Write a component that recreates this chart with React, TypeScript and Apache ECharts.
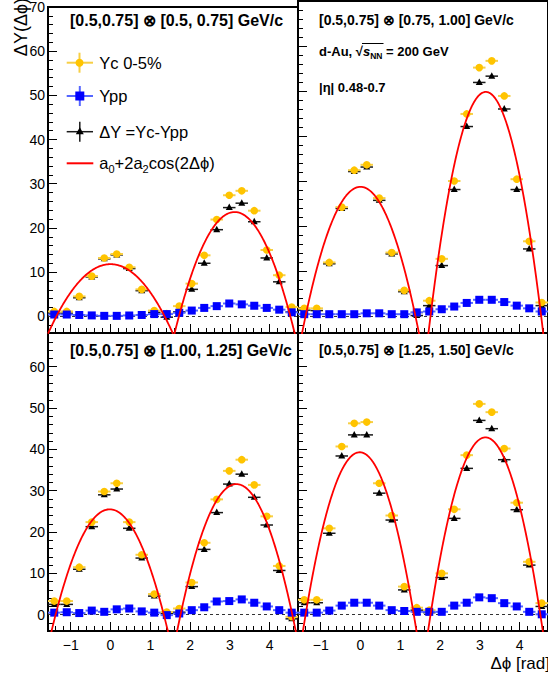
import React, { useEffect, useRef } from "react";
import * as echarts from "echarts";

const FONT = '"Liberation Sans", Arial, Helvetica, sans-serif';

// Δϕ bin centres (20 bins of width π/10 between -π/2 and 3π/2)
const binCenters = [-1.414, -1.1, -0.785, -0.471, -0.157, 0.157, 0.471, 0.785, 1.1, 1.414, 1.728, 2.042, 2.356, 2.67, 2.985, 3.299, 3.613, 3.927, 4.241, 4.555];
const binHalfWidth = 0.157;

const xMajorTicks = [-1, 0, 1, 2, 3, 4];
const yMajorTicksTop = [0, 10, 20, 30, 40, 50, 60, 70];
const yMajorTicksBottom = [0, 10, 20, 30, 40, 50, 60];

// panel 1: [0.5,0.75] x [0.5,0.75]
const ycP1 = [1.1, 1.1, 4.5, 9.1, 13.2, 14.1, 11.1, 6.1, 1.3, 0.6, 2.3, 7.4, 13.8, 21.9, 27.4, 28.4, 23.9, 15.0, 9.3, 2.1];
const yppP1 = [0.4, 0.4, 0.3, 0.2, 0.1, 0.1, 0.2, 0.3, 0.5, 0.5, 0.8, 1.3, 1.9, 2.3, 2.9, 2.7, 2.4, 1.9, 1.5, 0.9];
const dyP1 = [0.7, 0.7, 4.2, 8.9, 13.0, 13.9, 10.8, 5.8, 0.9, -0.2, 1.0, 6.1, 12.0, 19.6, 24.6, 25.6, 21.4, 13.2, 7.8, 1.0];
// panel 2: [0.5,0.75] x [0.75,1.00]
const ycP2 = [1.7, 1.7, 11.9, 24.2, 32.4, 33.6, 26.2, 14.1, 5.7, 0.8, 3.4, 12.7, 30.0, 44.9, 55.2, 56.7, 48.9, 30.4, 16.6, 3.0];
const yppP2 = [0.4, 0.4, 0.4, 0.4, 0.4, 0.6, 0.6, 0.4, 0.4, 0.8, 1.0, 1.5, 2.1, 2.9, 3.6, 3.6, 3.1, 2.3, 1.7, 1.0];
const dyP2 = [1.3, 1.2, 11.6, 23.9, 32.1, 33.1, 25.7, 13.8, 5.4, 0.1, 2.3, 11.2, 28.1, 42.1, 51.9, 53.3, 46.0, 28.1, 14.9, 2.3];
// panel 3: [0.5,0.75] x [1.00,1.25]
const ycP3 = [3.3, 3.3, 11.5, 22.4, 29.8, 31.8, 22.4, 14.5, 5.0, 0.65, 1.5, 7.8, 17.4, 27.9, 34.8, 37.5, 31.4, 23.8, 11.8, -0.5];
const yppP3 = [0.5, 0.6, 0.4, 1.0, 0.7, 1.3, 1.5, 0.8, 0.5, -0.1, 0.3, 1.1, 1.8, 3.2, 3.3, 3.7, 2.9, 2.0, 1.1, 0.5];
const dyP3 = [2.5, 2.5, 11.0, 21.3, 29.0, 30.4, 20.9, 13.7, 4.5, 0.3, 0.6, 6.8, 15.8, 24.7, 31.6, 34.0, 28.4, 21.7, 10.7, -1.0];
// panel 4: [0.5,0.75] x [1.25,1.50]
const ycP4 = [3.6, 3.6, 20.9, 40.7, 46.3, 46.6, 31.8, 24.0, 6.8, 1.7, 1.1, 10.0, 25.5, 38.6, 51.0, 49.0, 40.2, 27.1, 12.8, 2.8];
const yppP4 = [0.5, 0.5, 1.0, 2.2, 2.9, 2.9, 2.2, 1.1, 0.9, 0.7, 0.7, 0.7, 2.2, 2.9, 4.2, 4.0, 2.8, 2.0, 0.7, 0.1];
const dyP4 = [2.9, 2.9, 19.7, 38.4, 43.5, 43.5, 29.4, 22.9, 6.0, 1.1, 0.5, 9.0, 23.3, 35.4, 47.0, 45.0, 37.5, 25.4, 12.0, 2.0];

// fitted curve parameters per panel (near side / away side)
const nearPeak = [11.8, 28.7, 25.5, 39.3];
const nearCenter = [0.0, 0.0, -0.02, -0.02];
const nearWidth = [1.36, 1.38, 1.36, 1.36];
const awayPeak = [23.6, 49.8, 31.6, 42.9];
const awayCenter = [3.12, 3.15, 3.165, 3.14];
const awayWidth = [1.4, 1.39, 1.405, 1.38];

const panelTitles = [
  "[0.5,0.75] ⊗ [0.5, 0.75] GeV/c",
  "[0.5,0.75] ⊗ [0.75, 1.00] GeV/c",
  "[0.5,0.75] ⊗ [1.00, 1.25] GeV/c",
  "[0.5,0.75] ⊗ [1.25, 1.50] GeV/c",
];

const ycAll = [ycP1, ycP2, ycP3, ycP4];
const yppAll = [yppP1, yppP2, yppP3, yppP4];
const dyAll = [dyP1, dyP2, dyP3, dyP4];

const LAYOUT = [
  { left: 48, top: 1, width: 250, height: 332, yMin: -3.78, yMax: 70, showY: true, showX: false, yTicks: yMajorTicksTop, titleX: 70, titleY: 20, titleSize: 16 },
  { left: 298, top: 1, width: 251, height: 332, yMin: -3.78, yMax: 70, showY: false, showX: false, yTicks: yMajorTicksTop, titleX: 319, titleY: 19.5, titleSize: 14 },
  { left: 48, top: 333, width: 250, height: 298, yMin: -3.94, yMax: 68.15, showY: true, showX: true, yTicks: yMajorTicksBottom, titleX: 70, titleY: 350, titleSize: 16 },
  { left: 298, top: 333, width: 251, height: 298, yMin: -3.94, yMax: 68.15, showY: false, showX: true, yTicks: yMajorTicksBottom, titleX: 319, titleY: 349.5, titleSize: 14 },
];

const X_MIN = -Math.PI / 2;
const X_MAX = (3 * Math.PI) / 2;

const xMinorTicks: number[] = [];
for (let i = -7; i <= 23; i++) if (i % 5 !== 0) xMinorTicks.push(i / 5);
const yMinorTicks: number[] = [];
for (let i = -1; i <= 34; i++) if (i % 5 !== 0) yMinorTicks.push(i * 2);

const YC_MARK = "#FFC400";
const YC_BAR = "#F7CF45";
const YPP_MARK = "#0000FF";
const YPP_BAR = "#5566FF";
const DY_MARK = "#000000";
const DY_BAR = "#1a1a1a";
const RED = "#FF0000";

function fitCurve(peak: number, center: number, width: number, from: number, to: number) {
  const pts: number[][] = [];
  const n = 200;
  for (let i = 0; i <= n; i++) {
    const x = from + ((to - from) * i) / n;
    const u = (x - center) / width;
    pts.push([x, peak * (1 - u * u)]);
  }
  return pts;
}

function pointSeries(gi: number, values: number[], kind: "yc" | "ypp" | "dy") {
  const z = kind === "dy" ? 3 : kind === "yc" ? 4 : 5;
  return {
    type: "custom",
    xAxisIndex: 2 * gi,
    yAxisIndex: 2 * gi,
    clip: false,
    z,
    silent: true,
    data: values.map((v, k) => [binCenters[k], v]),
    renderItem: (_p: any, api: any) => {
      const x = api.value(0);
      const y = api.value(1);
      const a = api.coord([x - binHalfWidth, y]);
      const b = api.coord([x + binHalfWidth, y]);
      const c = api.coord([x, y]);
      const barColor = kind === "yc" ? YC_BAR : kind === "ypp" ? YPP_BAR : DY_BAR;
      const children: any[] = [
        {
          type: "line",
          shape: { x1: a[0], y1: a[1], x2: b[0], y2: b[1] },
          style: { stroke: barColor, lineWidth: kind === "dy" ? 1.5 : 2 },
        },
      ];
      if (kind === "yc") {
        children.push({ type: "circle", shape: { cx: c[0], cy: c[1], r: 3.8 }, style: { fill: YC_MARK } });
      } else if (kind === "ypp") {
        children.push({ type: "rect", shape: { x: c[0] - 4, y: c[1] - 4, width: 8, height: 8 }, style: { fill: YPP_MARK } });
      } else {
        children.push({
          type: "polygon",
          shape: { points: [[c[0], c[1] - 4], [c[0] - 3.5, c[1] + 2.5], [c[0] + 3.5, c[1] + 2.5]] },
          style: { fill: DY_MARK },
        });
      }
      return { type: "group", children };
    },
  };
}

function buildOption() {
  const grid: any[] = [];
  const xAxis: any[] = [];
  const yAxis: any[] = [];
  const series: any[] = [];
  const graphic: any[] = [];

  LAYOUT.forEach((L, gi) => {
    grid.push({
      left: L.left,
      top: L.top,
      width: L.width,
      height: L.height,
      show: true,
      borderColor: "#000",
      borderWidth: 2,
      backgroundColor: "transparent",
      containLabel: false,
    });
    const baseX = {
      type: "value",
      gridIndex: gi,
      min: X_MIN,
      max: X_MAX,
      position: "bottom",
      axisLine: { show: false, onZero: false },
      splitLine: { show: false },
    };
    xAxis.push({
      ...baseX,
      axisTick: { show: true, inside: true, length: 9, customValues: xMajorTicks, lineStyle: { color: "#000", width: 1 } },
      axisLabel: {
        show: L.showX,
        customValues: xMajorTicks,
        formatter: (v: number) => (v < 0 ? "\u2212" + Math.abs(v) : String(v)),
        fontSize: 14,
        fontFamily: FONT,
        color: "#000",
        margin: 7,
      },
    });
    xAxis.push({
      ...baseX,
      axisTick: { show: true, inside: true, length: 5, customValues: xMinorTicks, lineStyle: { color: "#000", width: 1 } },
      axisLabel: { show: false },
    });
    const baseY = {
      type: "value",
      gridIndex: gi,
      min: L.yMin,
      max: L.yMax,
      position: "left",
      axisLine: { show: false, onZero: false },
      splitLine: { show: false },
    };
    yAxis.push({
      ...baseY,
      axisTick: { show: true, inside: true, length: 9, customValues: L.yTicks, lineStyle: { color: "#000", width: 1 } },
      axisLabel: {
        show: L.showY,
        customValues: L.yTicks,
        fontSize: 14,
        fontFamily: FONT,
        color: "#000",
        margin: 3,
      },
    });
    yAxis.push({
      ...baseY,
      axisTick: {
        show: true,
        inside: true,
        length: 5,
        customValues: yMinorTicks.filter((v) => v > L.yMin && v < L.yMax),
        lineStyle: { color: "#000", width: 1 },
      },
      axisLabel: { show: false },
    });

    // zero reference line
    series.push({
      type: "line",
      xAxisIndex: 2 * gi,
      yAxisIndex: 2 * gi,
      data: [],
      z: 1,
      silent: true,
      markLine: {
        silent: true,
        symbol: "none",
        label: { show: false },
        lineStyle: { type: [3, 3], color: "#333", width: 1 },
        data: [{ yAxis: 0 }],
      },
    });

    series.push(pointSeries(gi, dyAll[gi], "dy"));
    series.push(pointSeries(gi, ycAll[gi], "yc"));
    series.push(pointSeries(gi, yppAll[gi], "ypp"));

    series.push({
      type: "line",
      xAxisIndex: 2 * gi,
      yAxisIndex: 2 * gi,
      data: fitCurve(nearPeak[gi], nearCenter[gi], nearWidth[gi], X_MIN, Math.PI / 2),
      showSymbol: false,
      symbol: "none",
      clip: true,
      z: 6,
      silent: true,
      lineStyle: { color: RED, width: 1.8 },
    });
    series.push({
      type: "line",
      xAxisIndex: 2 * gi,
      yAxisIndex: 2 * gi,
      data: fitCurve(awayPeak[gi], awayCenter[gi], awayWidth[gi], Math.PI / 2, X_MAX),
      showSymbol: false,
      symbol: "none",
      clip: true,
      z: 6,
      silent: true,
      lineStyle: { color: RED, width: 1.8 },
    });

    graphic.push({
      type: "text",
      x: L.titleX,
      y: L.titleY,
      z: 20,
      style: {
        text: panelTitles[gi],
        fontSize: L.titleSize,
        fontWeight: "bold",
        fontFamily: FONT,
        fill: "#000",
        verticalAlign: "middle",
      },
    });
  });

  // Legend (top-left panel)
  const legendText = (y: number, text: string) => ({
    type: "text",
    x: 99.3,
    y,
    z: 20,
    style: { text, fontSize: 16.5, fontFamily: FONT, fill: "#000", verticalAlign: "middle" },
  });
  const cross = (cx: number, cy: number, color: string, w: number) => [
    { type: "line", z: 20, shape: { x1: 66.7, y1: cy, x2: 93, y2: cy }, style: { stroke: color, lineWidth: w } },
    { type: "line", z: 20, shape: { x1: cx, y1: cy - 10, x2: cx, y2: cy + 10 }, style: { stroke: color, lineWidth: w } },
  ];
  graphic.push(...cross(79.5, 62.7, YC_BAR, 2));
  graphic.push({ type: "circle", z: 21, shape: { cx: 79.5, cy: 62.7, r: 4 }, style: { fill: YC_MARK } });
  graphic.push(legendText(62.7, "Yc 0-5%"));
  graphic.push(...cross(79.8, 96, YPP_BAR, 2));
  graphic.push({ type: "rect", z: 21, shape: { x: 75.3, y: 91.5, width: 9, height: 9 }, style: { fill: YPP_MARK } });
  graphic.push(legendText(96, "Ypp"));
  graphic.push(...cross(79.8, 131.7, DY_BAR, 1.5));
  graphic.push({
    type: "polygon",
    z: 21,
    shape: { points: [[79.8, 127.2], [75.8, 134.2], [83.8, 134.2]] },
    style: { fill: DY_MARK },
  });
  graphic.push(legendText(131.7, "\u0394Y =Yc-Ypp"));
  graphic.push({ type: "line", z: 20, shape: { x1: 66.7, y1: 163.3, x2: 93.3, y2: 163.3 }, style: { stroke: RED, lineWidth: 2 } });
  graphic.push({
    type: "text",
    x: 99.3,
    y: 163.3,
    z: 20,
    style: {
      text: "{n|a}{s|0}{n|+2a}{s|2}{n|cos(2\u0394\u03d5)}",
      verticalAlign: "middle",
      fill: "#000",
      rich: {
        n: { fontSize: 16.5, fontFamily: FONT, lineHeight: 22, fill: "#000" },
        s: { fontSize: 11, fontFamily: FONT, lineHeight: 10, verticalAlign: "bottom", fill: "#000" },
      },
    },
  });

  // top-right annotations
  graphic.push({
    type: "text",
    x: 319,
    y: 51.7,
    z: 20,
    style: {
      text: "{b|d-Au, \u221a}{i|s}{sub|NN}{b| = 200 GeV}",
      verticalAlign: "middle",
      rich: {
        b: { fontSize: 13, fontWeight: "bold", fontFamily: FONT, lineHeight: 18, fill: "#000" },
        i: { fontSize: 13, fontWeight: "bold", fontStyle: "italic", fontFamily: FONT, lineHeight: 18, fill: "#000" },
        sub: { fontSize: 8.5, fontWeight: "bold", fontFamily: FONT, lineHeight: 9, verticalAlign: "bottom", fill: "#000" },
      },
    },
  });
  graphic.push({ type: "line", z: 20, shape: { x1: 362, y1: 43.5, x2: 383.5, y2: 43.5 }, style: { stroke: "#000", lineWidth: 1 } });
  graphic.push({
    type: "text",
    x: 319,
    y: 87.3,
    z: 20,
    style: { text: "|\u03b7| 0.48-0.7", fontSize: 13, fontWeight: "bold", fontFamily: FONT, fill: "#000", verticalAlign: "middle" },
  });

  // axis titles
  graphic.push({
    type: "text",
    x: 21,
    y: -2,
    rotation: Math.PI / 2,
    z: 20,
    style: { text: "\u0394Y(\u0394\u03d5)", fontSize: 18, fontFamily: FONT, fill: "#000", align: "right", verticalAlign: "middle" },
  });
  graphic.push({
    type: "text",
    x: 550,
    y: 663,
    z: 20,
    style: { text: "\u0394\u03d5 [rad]", fontSize: 17, fontFamily: FONT, fill: "#000", align: "right", verticalAlign: "middle" },
  });

  return {
    animation: false,
    backgroundColor: "#fff",
    grid,
    xAxis,
    yAxis,
    series,
    graphic,
  };
}

export default function App() {
  const ref = useRef<HTMLDivElement>(null);
  useEffect(() => {
    if (!ref.current) return;
    const chart = echarts.init(ref.current, null, { renderer: "svg" });
    chart.setOption(buildOption() as any);
    return () => {
      chart.dispose();
    };
  }, []);
  return <div ref={ref} style={{ position: "absolute", left: 0, top: 0, width: 548, height: 676 }} />;
}
